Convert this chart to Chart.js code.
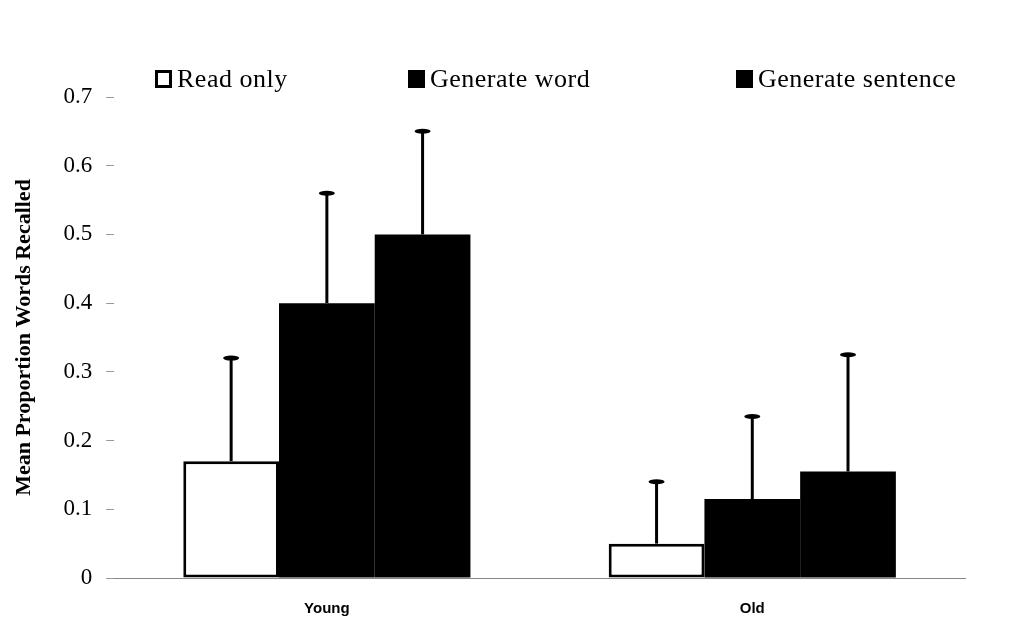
<!DOCTYPE html>
<html>
<head>
<meta charset="utf-8">
<script src="https://cdn.jsdelivr.net/npm/chart.js@4"></script>
<style>
  body { margin: 0; background: #fff; }
  #wrap { position: relative; width: 1011px; height: 635px; }
  #chartCanvas { position: absolute; left: 0; top: 0; }
  .legend-item {
    position: absolute; top: 64px; height: 30px;
    font-family: "Liberation Serif", serif; font-size: 26px; color: #000;
    display: flex; align-items: center; white-space: nowrap; letter-spacing: 0.5px;
  }
  .legend-box { width: 17px; height: 18px; margin-right: 5px; box-sizing: border-box; border: 3px solid #000; }
</style>
</head>
<body>
<div id="wrap">
  <canvas id="chartCanvas" width="1011" height="635"></canvas>
</div>
<script>
const groups = ['Young', 'Old'];
const seriesNames = ['Read only', 'Generate word', 'Generate sentence'];
const readOnly = [0.17, 0.05];
const generateWord = [0.40, 0.115];
const generateSentence = [0.50, 0.155];
const readOnlyErr = [0.15, 0.09];
const generateWordErr = [0.16, 0.12];
const generateSentenceErr = [0.15, 0.17];
const yTicks = [0, 0.1, 0.2, 0.3, 0.4, 0.5, 0.6, 0.7];

const fills = ['#ffffff', '#000000', '#000000'];
const errs = [readOnlyErr, generateWordErr, generateSentenceErr];

// legend drawn as html so the items sit where the scan has them
const legendLeft = [155, 408, 736];
const wrap = document.getElementById('wrap');
seriesNames.forEach((name, i) => {
  const item = document.createElement('div');
  item.className = 'legend-item';
  item.style.left = legendLeft[i] + 'px';
  const box = document.createElement('span');
  box.className = 'legend-box';
  box.style.background = fills[i];
  item.appendChild(box);
  item.appendChild(document.createTextNode(name));
  wrap.appendChild(item);
});

const errorBars = {
  id: 'errorBars',
  afterDatasetsDraw(chart) {
    const ctx = chart.ctx;
    const y = chart.scales.y;
    ctx.save();
    ctx.strokeStyle = '#000';
    ctx.fillStyle = '#000';
    ctx.lineWidth = 3;
    chart.data.datasets.forEach((ds, di) => {
      const meta = chart.getDatasetMeta(di);
      meta.data.forEach((bar, i) => {
        const top = y.getPixelForValue(ds.data[i] + errs[di][i]);
        ctx.beginPath();
        ctx.moveTo(bar.x, bar.y);
        ctx.lineTo(bar.x, top);
        ctx.stroke();
        ctx.beginPath();
        ctx.ellipse(bar.x, top, 8, 2.5, 0, 0, Math.PI * 2);
        ctx.fill();
      });
    });
    ctx.restore();
  }
};

new Chart(document.getElementById('chartCanvas').getContext('2d'), {
  type: 'bar',
  data: {
    labels: groups,
    datasets: [
      { label: seriesNames[0], data: readOnly, backgroundColor: fills[0], borderColor: '#000', borderWidth: 3, borderSkipped: false },
      { label: seriesNames[1], data: generateWord, backgroundColor: fills[1], borderColor: '#000', borderWidth: 0 },
      { label: seriesNames[2], data: generateSentence, backgroundColor: fills[2], borderColor: '#000', borderWidth: 0 },
    ],
  },
  options: {
    responsive: false,
    animation: false,
    layout: { padding: { top: 97, right: 46, left: 11, bottom: 3 } },
    plugins: {
      legend: { display: false },
      tooltip: { enabled: false },
    },
    datasets: { bar: { categoryPercentage: 0.675, barPercentage: 1.0 } },
    scales: {
      x: {
        grid: { display: false },
        border: { display: true, color: '#888', width: 1 },
        ticks: { color: '#000', padding: 14, font: { family: 'Liberation Sans', size: 15, weight: 'bold' } },
      },
      y: {
        min: 0,
        max: 0.7,
        afterBuildTicks: (axis) => { axis.ticks = yTicks.map((v) => ({ value: v })); },
        grid: { drawOnChartArea: false, drawTicks: true, tickLength: 8, tickColor: '#999', lineWidth: 1 },
        border: { display: false },
        ticks: { color: '#000', padding: 14, font: { family: 'Liberation Serif', size: 23 } },
        title: {
          display: true,
          text: 'Mean Proportion Words Recalled',
          color: '#000',
          font: { family: 'Liberation Serif', size: 22, weight: 'bold' },
          padding: { top: 0, bottom: 12 },
        },
      },
    },
  },
  plugins: [errorBars],
});
</script>
</body>
</html>
